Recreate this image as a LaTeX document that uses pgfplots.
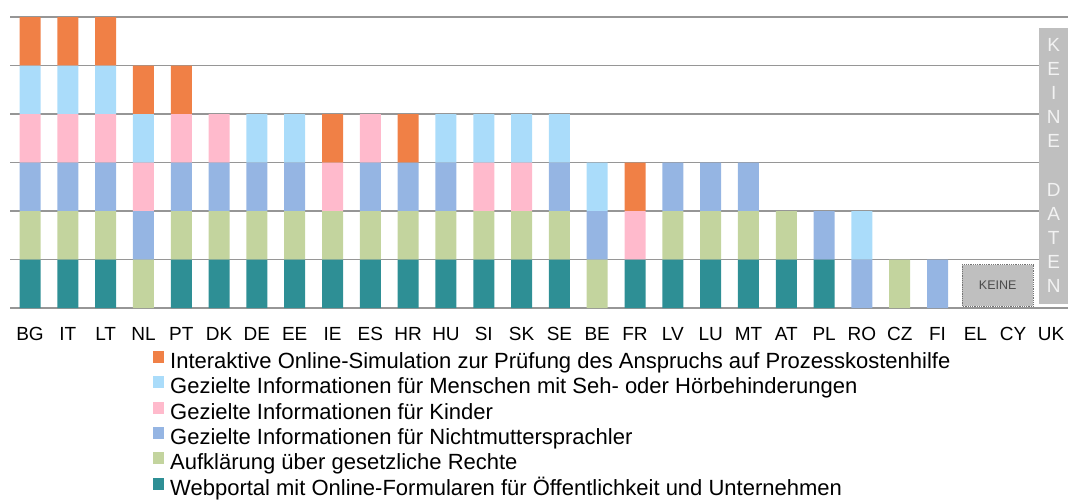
\documentclass[border=0pt]{standalone}
\usepackage{pgfplots}
\usepackage{pgfplotstable}
\pgfplotsset{compat=1.18}
\usepackage{fontspec}
\setmainfont{Liberation Sans}

\definecolor{cOrange}{RGB}{240,128,70}
\definecolor{cLBlue}{RGB}{170,220,250}
\definecolor{cPink}{RGB}{255,186,204}
\definecolor{cBlue}{RGB}{149,181,227}
\definecolor{cGreen}{RGB}{195,212,158}
\definecolor{cTeal}{RGB}{46,143,149}
\definecolor{cGrid}{RGB}{150,150,150}
\definecolor{cStrip}{RGB}{191,191,191}

% x: BG IT LT NL PT DK DE EE IE ES HR HU SI SK SE BE FR LV LU MT AT PL RO CZ FI EL CY UK
\pgfplotstableread{
x  W A N K S I
0  1 1 1 1 1 1
1  1 1 1 1 1 1
2  1 1 1 1 1 1
3  0 1 1 1 1 1
4  1 1 1 1 0 1
5  1 1 1 1 0 0
6  1 1 1 0 1 0
7  1 1 1 0 1 0
8  1 1 0 1 0 1
9  1 1 1 1 0 0
10 1 1 1 0 0 1
11 1 1 1 0 1 0
12 1 1 0 1 1 0
13 1 1 0 1 1 0
14 1 1 1 0 1 0
15 0 1 1 0 1 0
16 1 0 0 1 0 1
17 1 1 1 0 0 0
18 1 1 1 0 0 0
19 1 1 1 0 0 0
20 1 1 0 0 0 0
21 1 0 1 0 0 0
22 0 0 1 0 1 0
23 0 1 0 0 0 0
24 0 0 1 0 0 0
25 0 0 0 0 0 0
26 0 0 0 0 0 0
27 0 0 0 0 0 0
}\datatable

\begin{document}
\begin{tikzpicture}
\path[use as bounding box] (-10pt,-191pt) rectangle (1058pt,308pt);
\begin{axis}[
  at={(0,0)}, anchor=south west,
  scale only axis,
  width=1058pt, height=291pt,
  xmin=-0.53, xmax=27.45,
  ymin=0, ymax=6,
  ybar stacked,
  bar width=21pt,
  axis line style={draw=none},
  major tick length=0pt,
  ytick={0,1,2,3,4,5,6},
  yticklabels={},
  ymajorgrids,
  grid style={cGrid, line width=1.6pt},
  xtick={0,...,27},
  xticklabels={BG,IT,LT,NL,PT,DK,DE,EE,IE,ES,HR,HU,SI,SK,SE,BE,FR,LV,LU,MT,AT,PL,RO,CZ,FI,EL,CY,UK},
  xticklabel style={font=\fontsize{19}{22}\selectfont, yshift=-16pt},
  reverse legend,
  legend cell align=left,
  legend image code/.code={\fill[#1] (0pt,0pt) rectangle (11pt,12pt);},
  legend style={at={(rel axis cs:0,0)}, anchor=north west,
    xshift=142.7pt, yshift=-43pt,
    draw=none, fill=none, inner sep=0pt, outer sep=0pt,
    row sep=2.8pt, column sep=6.5pt,
    font=\fontsize{22}{26}\selectfont,
    nodes={inner sep=0pt, text height=16pt, text depth=5pt}},
]
\addplot[fill=cTeal, draw=none] table[x=x, y=W] {\datatable};
\addlegendentry{Webportal mit Online-Formularen für Öffentlichkeit und Unternehmen}
\addplot[fill=cGreen, draw=none] table[x=x, y=A] {\datatable};
\addlegendentry{Aufklärung über gesetzliche Rechte}
\addplot[fill=cBlue, draw=none] table[x=x, y=N] {\datatable};
\addlegendentry{Gezielte Informationen für Nichtmuttersprachler}
\addplot[fill=cPink, draw=none] table[x=x, y=K] {\datatable};
\addlegendentry{Gezielte Informationen für Kinder}
\addplot[fill=cLBlue, draw=none] table[x=x, y=S] {\datatable};
\addlegendentry{Gezielte Informationen für Menschen mit Seh- oder Hörbehinderungen}
\addplot[fill=cOrange, draw=none] table[x=x, y=I] {\datatable};
\addlegendentry{Interaktive Online-Simulation zur Prüfung des Anspruchs auf Prozesskostenhilfe}

\coordinate (kbA) at (axis cs:24.65,0.04);
\coordinate (kbB) at (axis cs:26.53,0.89);
\coordinate (kbC) at (axis cs:25.59,0.465);
\coordinate (stA) at (axis cs:26.69,0.08);
\coordinate (stB) at (axis cs:27.6,5.77);
\coordinate (stC) at (axis cs:27.07,2.94);
\end{axis}
\draw[densely dotted, line width=0.8pt, black!55, fill=cStrip] (kbA) rectangle (kbB);
\node[font=\fontsize{12.5}{14}\selectfont, text=black!70] at (kbC) {KEINE};
\fill[cStrip] (stA) rectangle (stB);
\node[font=\fontsize{19}{24.1}\selectfont, text=white!95!black, align=center, inner sep=0pt]
  at (stC) {K\\E\\I\\N\\E\\\mbox{}\\D\\A\\T\\E\\N};
\end{tikzpicture}
\end{document}
